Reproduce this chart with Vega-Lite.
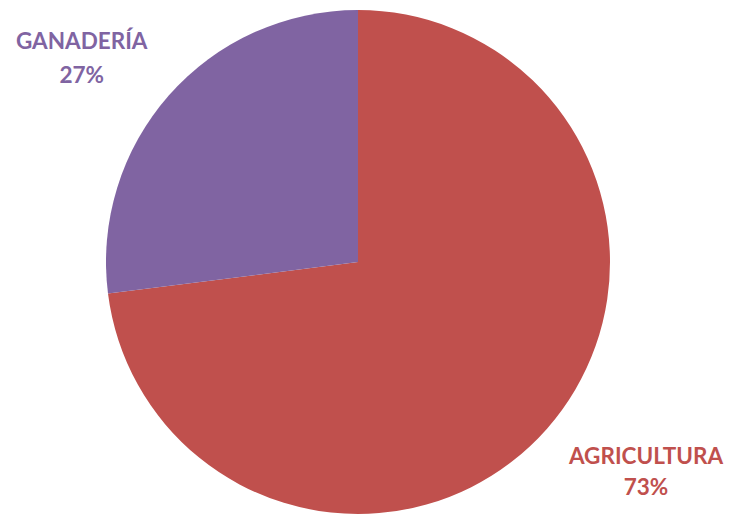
{
  "$schema": "https://vega.github.io/schema/vega-lite/v6.json",
  "width": 716,
  "height": 506,
  "autosize": {"type": "none"},
  "padding": {"left": 0, "right": 18, "top": 9, "bottom": 0},
  "background": "white",
  "data": {
    "values": [
      {"sector": "AGRICULTURA", "pct": 73, "label": "AGRICULTURA\n73%", "rank": 1},
      {"sector": "GANADERÍA", "pct": 27, "label": "GANADERÍA\n27%", "rank": 2}
    ]
  },
  "encoding": {
    "theta": {"field": "pct", "type": "quantitative", "stack": true},
    "order": {"field": "rank", "type": "ordinal"},
    "color": {
      "field": "sector",
      "type": "nominal",
      "scale": {"domain": ["AGRICULTURA", "GANADERÍA"], "range": ["#C0504D", "#8064A2"]},
      "legend": null
    }
  },
  "layer": [
    {
      "mark": {"type": "arc", "outerRadius": 252}
    },
    {
      "mark": {
        "type": "text",
        "radius": 343,
        "dx": -19,
        "dy": 7,
        "font": "Lato",
        "fontWeight": "bold",
        "fontSize": 22.5,
        "lineBreak": "\n",
        "lineHeight": 34,
        "align": "center",
        "baseline": "middle"
      },
      "encoding": {
        "text": {"condition": {"test": "datum.rank == 2", "field": "label"}, "value": ""}
      }
    },
    {
      "mark": {
        "type": "text",
        "radius": 356,
        "dx": 21,
        "dy": -40,
        "font": "Lato",
        "fontWeight": "bold",
        "fontSize": 22.5,
        "lineBreak": "\n",
        "lineHeight": 31,
        "align": "center",
        "baseline": "middle"
      },
      "encoding": {
        "text": {"condition": {"test": "datum.rank == 1", "field": "label"}, "value": ""}
      }
    }
  ],
  "config": {"view": {"stroke": null}}
}
